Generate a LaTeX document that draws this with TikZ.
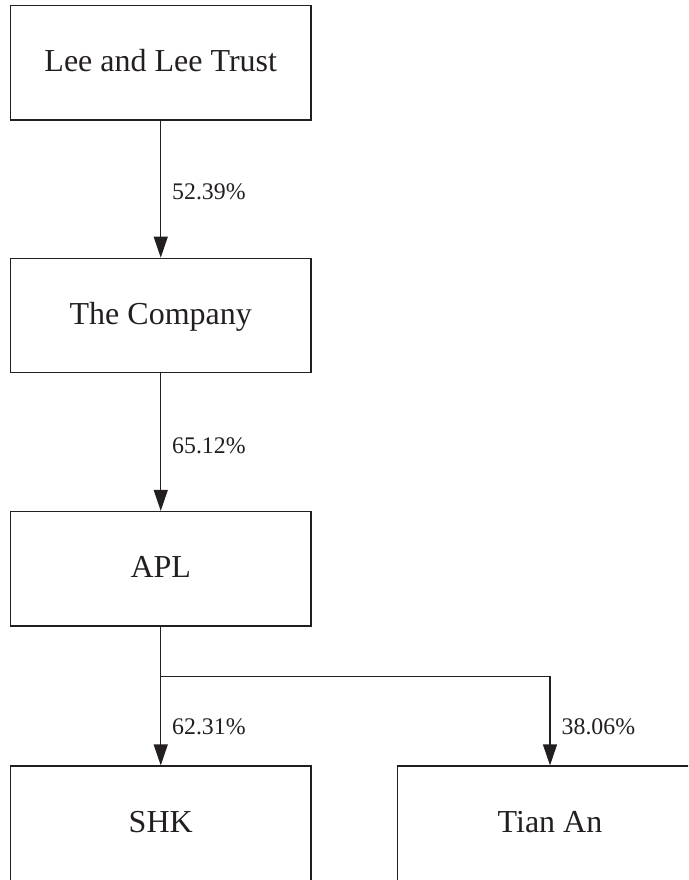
\documentclass[tikz,border=0pt]{standalone}
\usepackage{fontspec}
\setmainfont{Liberation Serif}
\usetikzlibrary{arrows.meta}
\definecolor{ink}{HTML}{231F20}
\begin{document}
\begin{tikzpicture}[x=1pt,y=-1pt,
  entity/.style={draw=ink,line width=1.2pt,minimum width=300.5pt,minimum height=114.5pt,
    inner sep=0pt,text=ink,font=\fontsize{32}{32}\selectfont,text height=21pt,text depth=3pt},
  pct/.style={inner sep=0pt,text=ink,font=\fontsize{23.8}{23.8}\selectfont,anchor=base west},
  link/.style={draw=ink,line width=1.2pt,-{Triangle[length=21pt,width=14pt]}}]
\useasboundingbox (0,0) rectangle (688,880);
\clip (0,0) rectangle (688,880);
\node[entity] (trust) at (160.75,62.75) {Lee and Lee Trust};
\node[entity] (comp) at (160.75,315.5) {The Company};
\node[entity] (apl) at (160.75,568.75) {APL};
\node[entity] (shk) at (160.75,823.25) {SHK};
\node[entity,minimum width=305.4pt] (tian) at (550,823.25) {Tian An};
\coordinate (split) at (160.75,676.7);
\draw[link] (trust) -- (comp);
\draw[link] (comp) -- (apl);
\draw[link] (apl) -- (shk);
\draw[link] (split) -| (tian.north);
\node[pct] (p1) at (172,199) {52.39\%};
\node[pct] (p2) at (172,453) {65.12\%};
\node[pct] (p3) at (172,734) {62.31\%};
\node[pct] (p4) at (561.5,734) {38.06\%};
\end{tikzpicture}
\end{document}
